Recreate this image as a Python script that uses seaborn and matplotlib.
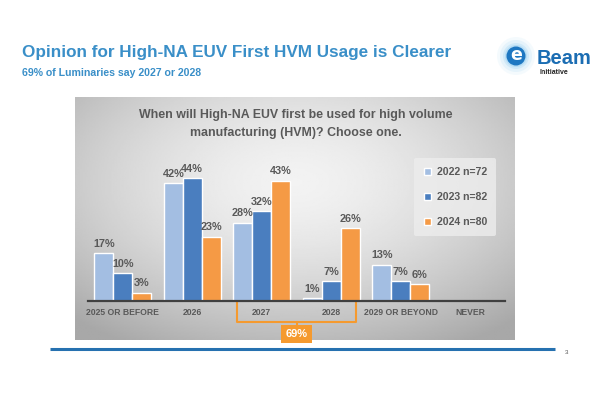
import matplotlib
matplotlib.use("Agg")
import matplotlib.pyplot as plt
import matplotlib.patches as mpatches
import seaborn as sns
import pandas as pd
import numpy as np

# Data
categories = ["2025 OR BEFORE", "2026", "2027", "2028", "2029 OR BEYOND", "NEVER"]
series_names = ["2022 n=72", "2023 n=82", "2024 n=80"]
pct_2022 = [17, 42, 28, 1, 13, 0]
pct_2023 = [10, 44, 32, 7, 7, 0]
pct_2024 = [3, 23, 43, 26, 6, 0]
combined_label = "69%"

colors = ["#A3BEE2", "#4A7EBF", "#F59A45"]
gray_txt = "#595959"
blue_title = "#3A8FC8"

sns.set_style("white")
plt.rcParams["font.family"] = ["Liberation Sans", "DejaVu Sans"]

df = pd.DataFrame({
    "category": categories * 3,
    "series": [series_names[0]] * 6 + [series_names[1]] * 6 + [series_names[2]] * 6,
    "pct": pct_2022 + pct_2023 + pct_2024,
})

fig = plt.figure(figsize=(6, 4), dpi=100)
fig.patch.set_facecolor("white")

# overlay in pixel coordinates for slide decorations
deco = fig.add_axes([0, 0, 1, 1], zorder=0)
deco.set_xlim(0, 600)
deco.set_ylim(400, 0)
deco.axis("off")

# gray radial gradient panel
px0, px1, py0, py1 = 75, 515, 97, 340
gx, gy = np.meshgrid(np.linspace(-1, 1, 300), np.linspace(-1, 1, 200))
r = np.sqrt((gx * 0.95) ** 2 + ((gy + 0.3) * 0.9) ** 2)
shade = 0.95 - 0.17 * np.clip(r, 0, 1.4) ** 1.6
deco.imshow(shade, cmap="gray", vmin=0, vmax=1, extent=(px0, px1, py1, py0),
            aspect="auto", zorder=0)

# slide title
deco.text(22, 52, "Opinion for High-NA EUV First HVM Usage is Clearer", fontsize=12.3,
          fontweight="bold", color=blue_title, va="center", ha="left")
deco.text(22, 73, "69% of Luminaries say 2027 or 2028", fontsize=7.6,
          fontweight="bold", color=blue_title, va="center", ha="left")

# logo
for rad, a in [(19, 0.08), (16, 0.12), (13, 0.2), (11, 0.3)]:
    deco.add_patch(mpatches.Circle((516, 56), rad, color="#7CC3EE", alpha=a, lw=0))
deco.add_patch(mpatches.Circle((516, 56), 9.5, color="#1E78C2", lw=0))
deco.text(516, 55.5, "e", fontsize=12.5, fontweight="bold", color="white",
          ha="center", va="center", family="DejaVu Sans")
deco.text(537, 58, "Beam", fontsize=14.5, fontweight="bold", color="#1B6DB3",
          ha="left", va="center")
deco.text(539, 73, "Initiative", fontsize=5, fontweight="bold", color="#222222",
          ha="left", va="center")

# bottom line and page number
deco.plot([50, 555], [349, 349], color="#2671B0", lw=2.2, solid_capstyle="butt")
deco.text(567, 352, "3", fontsize=4.5, color="#555555", ha="center", va="center")

# chart title
deco.text(296, 124, "When will High-NA EUV first be used for high volume\nmanufacturing (HVM)? Choose one.",
          fontsize=8.9, fontweight="bold", color=gray_txt, ha="center", va="center",
          linespacing=1.6)

# bar chart
ax = fig.add_axes([88 / 600, 99 / 400, 417 / 600, 140 / 400], zorder=2)
ax.set_facecolor("none")
sns.barplot(data=df, x="category", y="pct", hue="series", palette=colors,
            width=0.82, errorbar=None, ax=ax, saturation=1)
ax.set_ylim(0, 50)
ax.set_xlim(-0.5, 5.5)
ax.set_xlabel("")
ax.set_ylabel("")
ax.set_yticks([])
sns.despine(ax=ax, left=True, top=True, right=True)
ax.spines["bottom"].set_color("#404040")
ax.spines["bottom"].set_linewidth(1.6)
ax.tick_params(axis="x", length=0, pad=5, labelsize=6.2, labelcolor=gray_txt)
for t in ax.get_xticklabels():
    t.set_fontweight("bold")

for cont in ax.containers:
    labels = [f"{v:.0f}%" if v > 0 else "" for v in cont.datavalues]
    ax.bar_label(cont, labels=labels, padding=3, fontsize=7.8, fontweight="bold",
                 color=gray_txt)

leg = ax.legend(loc="upper left", bbox_to_anchor=(0.77, 1.06), frameon=True,
                fontsize=7.6, handlelength=0.7, handleheight=0.7, labelspacing=1.4,
                borderpad=0.9, handletextpad=0.5)
leg.get_frame().set_facecolor("#EDEDED")
leg.get_frame().set_edgecolor("none")
leg.get_frame().set_alpha(0.8)
for t in leg.get_texts():
    t.set_color(gray_txt)
    t.set_fontweight("bold")

# bracket for 2027 + 2028
orange = "#F59A2F"
ax.plot([1.64, 1.64, 3.36, 3.36], [0, -7.5, -7.5, 0], color=orange, lw=1.5,
        clip_on=False)
ax.plot([2.5, 2.5], [-7.5, -9], color=orange, lw=1.5, clip_on=False)
ax.text(2.5, -11.8, combined_label, ha="center", va="center", fontsize=8,
        fontweight="bold", color="white",
        bbox=dict(boxstyle="square,pad=0.4", facecolor=orange, edgecolor="none"))

fig.savefig("out.png", dpi=100)
